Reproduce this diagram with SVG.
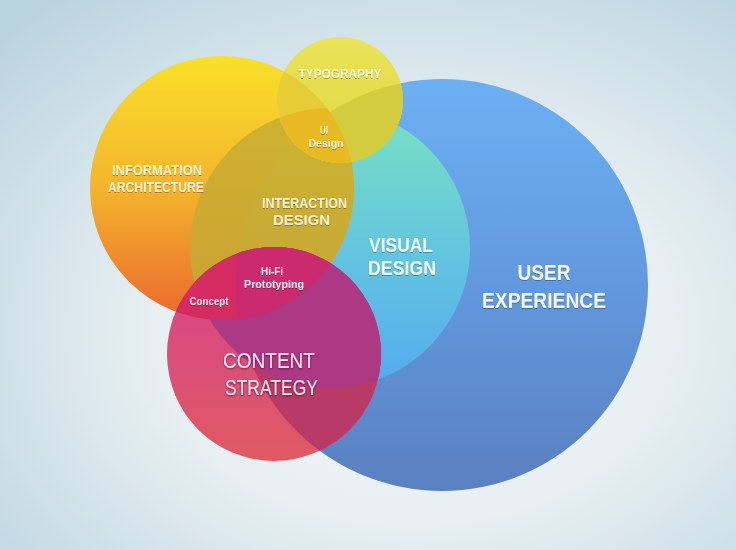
<svg xmlns="http://www.w3.org/2000/svg" width="736" height="550" viewBox="0 0 736 550">
  <style>
    .lbl { font-family: "Liberation Sans", Arial, sans-serif; font-weight: 700; text-anchor: middle; filter: url(#tshadow); }
    .cs { font-family: "Liberation Sans", Arial, sans-serif; font-weight: 400; text-anchor: middle; fill: #f8e2f0; filter: url(#tshadowDark); }
  </style>
  <defs>
    <radialGradient id="bg" cx="0.56" cy="0.6" r="0.78">
      <stop offset="0" stop-color="#f6f9fa"/>
      <stop offset="0.45" stop-color="#e7eff2"/>
      <stop offset="1" stop-color="#b9d3df"/>
    </radialGradient>
    <linearGradient id="gUX" x1="0" y1="79" x2="0" y2="491" gradientUnits="userSpaceOnUse">
      <stop offset="0" stop-color="#6cb0f2"/>
      <stop offset="0.5" stop-color="#6298de"/>
      <stop offset="1" stop-color="#5a80c0"/>
    </linearGradient>
    <linearGradient id="gVD" x1="0" y1="108" x2="0" y2="388" gradientUnits="userSpaceOnUse">
      <stop offset="0" stop-color="#7ae0c2"/>
      <stop offset="0.5" stop-color="#63c6de"/>
      <stop offset="1" stop-color="#53aaef"/>
    </linearGradient>
    <linearGradient id="gIA" x1="0" y1="56" x2="0" y2="320" gradientUnits="userSpaceOnUse">
      <stop offset="0" stop-color="#f9e02a"/>
      <stop offset="0.5" stop-color="#f3b42c"/>
      <stop offset="1" stop-color="#eb682e"/>
    </linearGradient>
    <linearGradient id="gOlive" x1="0" y1="108" x2="0" y2="320" gradientUnits="userSpaceOnUse">
      <stop offset="0" stop-color="#d0b22e"/>
      <stop offset="1" stop-color="#c9a134"/>
    </linearGradient>
    <linearGradient id="gOliveB" x1="0" y1="108" x2="0" y2="320" gradientUnits="userSpaceOnUse">
      <stop offset="0" stop-color="#cbb432"/>
      <stop offset="1" stop-color="#c6a536"/>
    </linearGradient>
    <linearGradient id="gTY" x1="0" y1="37" x2="0" y2="163" gradientUnits="userSpaceOnUse">
      <stop offset="0" stop-color="#ebe358"/>
      <stop offset="1" stop-color="#dcd640"/>
    </linearGradient>
    <linearGradient id="gCS" x1="0" y1="247" x2="0" y2="461" gradientUnits="userSpaceOnUse">
      <stop offset="0" stop-color="#d8468a"/>
      <stop offset="0.5" stop-color="#da4e7a"/>
      <stop offset="1" stop-color="#e05a62"/>
    </linearGradient>
    <clipPath id="clipUX"><circle cx="442" cy="285" r="206"/></clipPath>
    <clipPath id="clipVD"><circle cx="330" cy="248" r="140"/></clipPath>
    <clipPath id="clipIA"><circle cx="222" cy="188" r="132"/></clipPath>
    <clipPath id="clipTY"><circle cx="340" cy="100" r="63"/></clipPath>
    <clipPath id="clipCS"><circle cx="274" cy="354" r="107"/></clipPath>
    <filter id="tshadow" x="-10%" y="-30%" width="120%" height="160%">
      <feDropShadow dx="0" dy="1" stdDeviation="0.6" flood-color="#000" flood-opacity="0.3"/>
    </filter>
    <filter id="tshadowDark" x="-10%" y="-30%" width="120%" height="160%">
      <feDropShadow dx="0" dy="1" stdDeviation="0.8" flood-color="#4a0a2c" flood-opacity="0.75"/>
    </filter>
  </defs>

  <rect x="0" y="0" width="736" height="550" fill="url(#bg)"/>

  <g id="user-experience">
    <circle cx="442" cy="285" r="206" fill="url(#gUX)"/>
  </g>

  <g id="visual-design">
    <circle cx="330" cy="248" r="140" fill="url(#gVD)"/>
  </g>

  <g id="information-architecture">
    <circle cx="222" cy="188" r="132" fill="url(#gIA)"/>
  </g>

  <g id="interaction-design">
    <g clip-path="url(#clipIA)">
      <circle cx="330" cy="248" r="140" fill="url(#gOlive)"/>
      <g clip-path="url(#clipUX)">
        <circle cx="330" cy="248" r="140" fill="url(#gOliveB)"/>
      </g>
    </g>
  </g>

  <g id="typography">
    <circle cx="340" cy="100" r="63" fill="url(#gTY)"/>
    <g clip-path="url(#clipTY)">
      <circle cx="222" cy="188" r="132" fill="#e6cd38"/>
      <circle cx="442" cy="285" r="206" fill="#d3cc3e"/>
    </g>
  </g>

  <g id="ui-design">
    <g clip-path="url(#clipTY)">
      <g clip-path="url(#clipIA)">
        <circle cx="330" cy="248" r="140" fill="#e8b922"/>
      </g>
    </g>
  </g>

  <g id="content-strategy">
    <circle cx="274" cy="354" r="107" fill="url(#gCS)"/>
    <g clip-path="url(#clipCS)">
      <circle cx="442" cy="285" r="206" fill="#b73b66"/>
      <circle cx="330" cy="248" r="140" fill="#ad3884"/>
    </g>
  </g>

  <g id="concept">
    <g clip-path="url(#clipCS)">
      <circle cx="222" cy="188" r="132" fill="#d42b62"/>
    </g>
  </g>

  <g id="hi-fi-prototyping">
    <g clip-path="url(#clipCS)">
      <g clip-path="url(#clipIA)">
        <circle cx="442" cy="285" r="206" fill="#cb2a6e"/>
      </g>
    </g>
  </g>

  <g id="labels">
    <text class="lbl" x="340" y="78" font-size="13" fill="#fbf7d8" textLength="83" lengthAdjust="spacingAndGlyphs">TYPOGRAPHY</text>
    <text class="lbl" x="324" y="134" font-size="10.5" fill="#fdf3d6" textLength="8" lengthAdjust="spacingAndGlyphs">UI</text>
    <text class="lbl" x="326" y="147" font-size="10.5" fill="#fdf3d6" textLength="35" lengthAdjust="spacingAndGlyphs">Design</text>
    <text class="lbl" x="157" y="175" font-size="14" fill="#fdf0cf" textLength="90" lengthAdjust="spacingAndGlyphs">INFORMATION</text>
    <text class="lbl" x="156" y="192" font-size="14" fill="#fdf0cf" textLength="96" lengthAdjust="spacingAndGlyphs">ARCHITECTURE</text>
    <text class="lbl" x="304.5" y="208" font-size="14" fill="#f9efcf" textLength="85" lengthAdjust="spacingAndGlyphs">INTERACTION</text>
    <text class="lbl" x="301.5" y="225" font-size="14" fill="#f9efcf" textLength="57" lengthAdjust="spacingAndGlyphs">DESIGN</text>
    <text class="lbl" x="272" y="275" font-size="10.5" fill="#fbe6f0" textLength="22" lengthAdjust="spacingAndGlyphs">Hi-Fi</text>
    <text class="lbl" x="274" y="288" font-size="10.5" fill="#fbe6f0" textLength="60" lengthAdjust="spacingAndGlyphs">Prototyping</text>
    <text class="lbl" x="209" y="305" font-size="10" fill="#fbe6f0" textLength="39" lengthAdjust="spacingAndGlyphs">Concept</text>
    <text class="lbl" x="401" y="252" font-size="20" fill="#eef9fb" textLength="64" lengthAdjust="spacingAndGlyphs">VISUAL</text>
    <text class="lbl" x="402" y="275" font-size="20" fill="#eef9fb" textLength="68" lengthAdjust="spacingAndGlyphs">DESIGN</text>
    <text class="lbl" x="544" y="280" font-size="22" fill="#f2f7fd" textLength="53" lengthAdjust="spacingAndGlyphs">USER</text>
    <text class="lbl" x="544" y="308" font-size="22" fill="#f2f7fd" textLength="124" lengthAdjust="spacingAndGlyphs">EXPERIENCE</text>
    <text class="cs" x="269" y="368" font-size="22" textLength="92" lengthAdjust="spacingAndGlyphs">CONTENT</text>
    <text class="cs" x="271.5" y="395" font-size="22" textLength="93" lengthAdjust="spacingAndGlyphs">STRATEGY</text>
  </g>
</svg>
